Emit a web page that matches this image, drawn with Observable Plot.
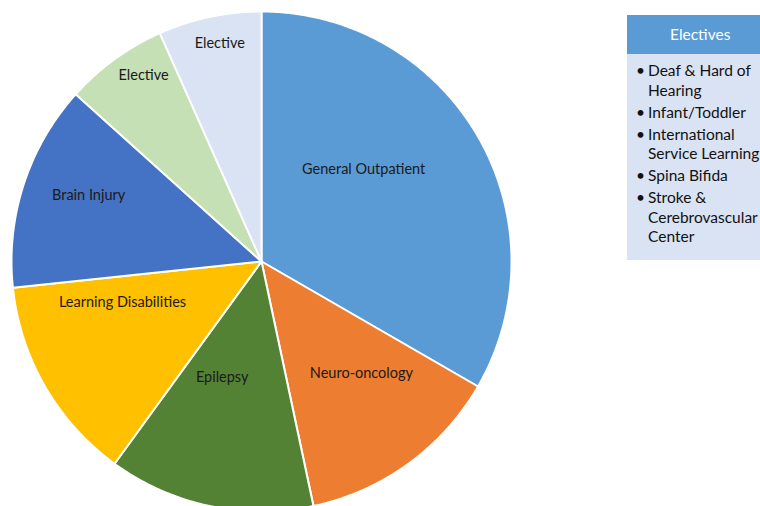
<!DOCTYPE html>
<html>
<head>
<meta charset="utf-8">
<script src="https://cdn.jsdelivr.net/npm/d3@7"></script>
<script src="https://cdn.jsdelivr.net/npm/@observablehq/plot@0.6"></script>
<style>
  html, body { margin: 0; padding: 0; background: #fff; overflow: hidden; width: 760px; height: 506px; }
  #wrap { position: relative; width: 760px; height: 506px; overflow: hidden; font-family: Lato, "Open Sans", sans-serif; }
  #legend { position: absolute; left: 627px; top: 15px; width: 150px; height: 245px; background: #DAE3F3; }
  #legend .hd { background: #5B9BD5; color: #fff; height: 39px; line-height: 39px; font-size: 15.5px; padding-left: 43px; }
  #legend ul { margin: 0; padding: 7px 0 0 9px; list-style: none; font-size: 15.5px; line-height: 19.5px; color: #111; }
  #legend li { position: relative; padding-left: 12px; margin-bottom: 2.5px; white-space: nowrap; }
  #legend li::before { content: "•"; position: absolute; left: 0; }
</style>
</head>
<body>
<div id="wrap"></div>
<script>
// ---- data ----
const categories = ["General Outpatient", "Neuro-oncology", "Epilepsy", "Learning Disabilities", "Brain Injury", "Elective", "Elective"];
const values = [5, 2, 2, 2, 2, 1, 1];
const sliceColors = ["#5B9BD5", "#ED7D31", "#548235", "#FFC000", "#4472C4", "#C5E0B4", "#DAE3F3"];
const legendTitle = "Electives";
const electives = [["Deaf & Hard of", "Hearing"], ["Infant/Toddler"], ["International", "Service Learning"], ["Spina Bifida"], ["Stroke &", "Cerebrovascular", "Center"]];

// ---- layout (label placement inside each slice: fraction of angle span, fraction of radius) ----
const labelAngleFrac = [0.40, 0.38, 0.64, 0.78, 0.56, 0.65, 0.55];
const labelRadiusFrac = [0.55, 0.60, 0.49, 0.58, 0.74, 0.88, 0.89];

const rows = categories.map((name, i) => ({i, name, value: values[i]}));
const arcs = d3.pie().sort(null).value(d => d.value)(rows);

const polys = [];
arcs.forEach(a => {
  const n = Math.max(4, Math.ceil((a.endAngle - a.startAngle) / 0.01));
  polys.push({i: a.data.i, x: 0, y: 0});
  for (let k = 0; k <= n; k++) {
    const t = a.startAngle + (a.endAngle - a.startAngle) * k / n;
    polys.push({i: a.data.i, x: Math.sin(t), y: Math.cos(t)});
  }
  polys.push({i: a.data.i, x: 0, y: 0});
});

const labels = arcs.map(a => {
  const i = a.data.i;
  const t = a.startAngle + (a.endAngle - a.startAngle) * labelAngleFrac[i];
  const r = labelRadiusFrac[i];
  return {name: a.data.name, x: r * Math.sin(t), y: r * Math.cos(t)};
});

const chart = Plot.plot({
  width: 760,
  height: 506,
  margin: 0,
  x: {domain: [-1, 1], range: [11, 511], axis: null},
  y: {domain: [-1, 1], range: [511, 11], axis: null},
  color: {type: "ordinal", domain: categories.map((_, i) => i), range: sliceColors},
  style: {fontFamily: "Lato, 'Open Sans', sans-serif", background: "white", overflow: "hidden"},
  marks: [
    Plot.line(polys, {x: "x", y: "y", z: "i", fill: "i", stroke: "white", strokeWidth: 2, strokeLinejoin: "round", curve: "linear"}),
    Plot.text(labels, {x: "x", y: "y", text: "name", fill: "#1a1a1a", fontSize: 14.5})
  ]
});

const wrap = document.getElementById("wrap");
wrap.appendChild(chart);

const lg = document.createElement("div");
lg.id = "legend";
const hd = document.createElement("div");
hd.className = "hd";
hd.textContent = legendTitle;
lg.appendChild(hd);
const ul = document.createElement("ul");
electives.forEach(lines => {
  const li = document.createElement("li");
  li.innerHTML = lines.map(s => s.replace(/&/g, "&amp;")).join("<br>");
  ul.appendChild(li);
});
lg.appendChild(ul);
wrap.appendChild(lg);
</script>
</body>
</html>
